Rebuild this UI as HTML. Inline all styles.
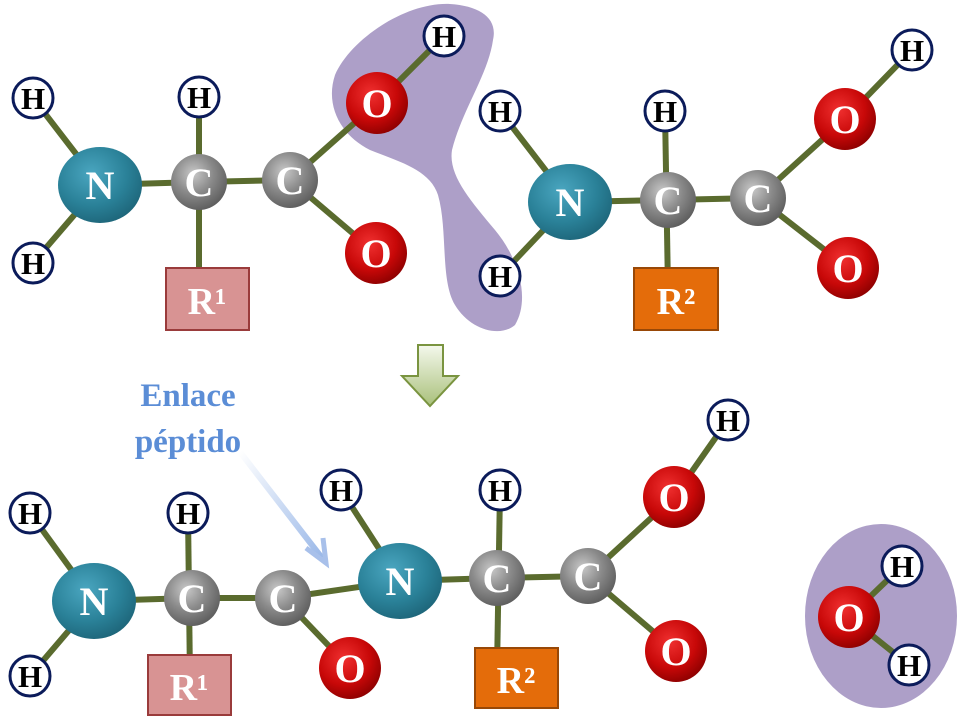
<!DOCTYPE html>
<html><head><meta charset="utf-8"><style>
html,body{margin:0;padding:0;background:#fff;width:960px;height:720px;overflow:hidden}
svg text{font-family:"Liberation Serif",serif;font-weight:bold;text-anchor:middle}
</style></head><body>
<svg width="960" height="720" viewBox="0 0 960 720" xmlns="http://www.w3.org/2000/svg">
<defs>
<radialGradient id="gN" cx="40%" cy="35%" r="70%"><stop offset="0" stop-color="#4aa6c0"/><stop offset="0.6" stop-color="#2a8198"/><stop offset="1" stop-color="#1d6478"/></radialGradient>
<radialGradient id="gC" cx="40%" cy="35%" r="70%"><stop offset="0" stop-color="#c8c8c8"/><stop offset="0.5" stop-color="#8a8a8a"/><stop offset="1" stop-color="#5a5a5a"/></radialGradient>
<radialGradient id="gO" cx="40%" cy="35%" r="70%"><stop offset="0" stop-color="#f03030"/><stop offset="0.6" stop-color="#c80808"/><stop offset="1" stop-color="#8a0000"/></radialGradient>
<linearGradient id="gA" x1="0" y1="0" x2="0" y2="1"><stop offset="0" stop-color="#f4f8ec"/><stop offset="1" stop-color="#a9c07a"/></linearGradient>
<linearGradient id="gL" x1="0" y1="0" x2="1" y2="1"><stop offset="0" stop-color="#ffffff"/><stop offset="1" stop-color="#9ab8e8"/></linearGradient>
</defs>
<path d="M450,4 C480,6 498,18 493,40 C488,75 462,110 452,150 C448,175 470,200 495,230 C520,260 530,300 515,325 C500,338 470,330 455,305 C440,280 448,230 438,195 C430,170 400,162 370,150 C340,135 325,105 335,75 C350,40 405,2 450,4 Z" fill="#ad9fc8"/>
<ellipse cx="881" cy="616" rx="76" ry="92" fill="#ad9fc8"/>
<g stroke="#5a6b2e" stroke-width="6" fill="none">
<line x1="33" y1="98" x2="100" y2="185"/><line x1="33" y1="263" x2="100" y2="185"/>
<line x1="100" y1="185" x2="199" y2="182"/><line x1="199" y1="97" x2="199" y2="290"/>
<line x1="199" y1="182" x2="290" y2="180"/><line x1="290" y1="180" x2="377" y2="103"/>
<line x1="290" y1="180" x2="376" y2="253"/><line x1="377" y1="103" x2="444" y2="36"/>
<line x1="500" y1="111" x2="570" y2="202"/><line x1="500" y1="276" x2="570" y2="202"/>
<line x1="570" y1="202" x2="668" y2="200"/><line x1="665" y1="111" x2="668" y2="290"/>
<line x1="668" y1="200" x2="758" y2="198"/><line x1="758" y1="198" x2="845" y2="119"/>
<line x1="758" y1="198" x2="848" y2="268"/><line x1="845" y1="119" x2="912" y2="50"/>
<line x1="30" y1="513" x2="94" y2="601"/><line x1="30" y1="676" x2="94" y2="601"/>
<line x1="94" y1="601" x2="192" y2="598"/><line x1="188" y1="513" x2="190" y2="680"/>
<line x1="192" y1="598" x2="283" y2="598"/><line x1="283" y1="598" x2="350" y2="668"/>
<line x1="283" y1="598" x2="400" y2="581"/><line x1="341" y1="490" x2="400" y2="581"/>
<line x1="400" y1="581" x2="497" y2="578"/><line x1="500" y1="490" x2="497" y2="670"/>
<line x1="497" y1="578" x2="588" y2="576"/><line x1="588" y1="576" x2="674" y2="497"/>
<line x1="588" y1="576" x2="676" y2="651"/><line x1="674" y1="497" x2="728" y2="420"/>
<line x1="849" y1="617" x2="902" y2="566"/><line x1="849" y1="617" x2="909" y2="665"/>
</g>
<rect x="166" y="268" width="83" height="62" fill="#d89393" stroke="#9a3b3b" stroke-width="2"/>
<text x="207" y="314" font-size="38" fill="#fff">R¹</text>
<rect x="634" y="268" width="84" height="62" fill="#e46c0a" stroke="#984807" stroke-width="2"/>
<text x="676" y="314" font-size="38" fill="#fff">R²</text>
<rect x="148" y="655" width="83" height="60" fill="#d89393" stroke="#9a3b3b" stroke-width="2"/>
<text x="189" y="700" font-size="38" fill="#fff">R¹</text>
<rect x="475" y="648" width="83" height="60" fill="#e46c0a" stroke="#984807" stroke-width="2"/>
<text x="516" y="693" font-size="38" fill="#fff">R²</text>
<g font-size="40" fill="#fff">
<ellipse cx="100" cy="185" rx="42" ry="38" fill="url(#gN)"/><text x="100" y="199">N</text>
<ellipse cx="570" cy="202" rx="42" ry="38" fill="url(#gN)"/><text x="570" y="216">N</text>
<ellipse cx="94" cy="601" rx="42" ry="38" fill="url(#gN)"/><text x="94" y="615">N</text>
<ellipse cx="400" cy="581" rx="42" ry="38" fill="url(#gN)"/><text x="400" y="595">N</text>
<circle cx="199" cy="182" r="28" fill="url(#gC)"/><text x="199" y="196">C</text>
<circle cx="290" cy="180" r="28" fill="url(#gC)"/><text x="290" y="194">C</text>
<circle cx="668" cy="200" r="28" fill="url(#gC)"/><text x="668" y="214">C</text>
<circle cx="758" cy="198" r="28" fill="url(#gC)"/><text x="758" y="212">C</text>
<circle cx="192" cy="598" r="28" fill="url(#gC)"/><text x="192" y="612">C</text>
<circle cx="283" cy="598" r="28" fill="url(#gC)"/><text x="283" y="612">C</text>
<circle cx="497" cy="578" r="28" fill="url(#gC)"/><text x="497" y="592">C</text>
<circle cx="588" cy="576" r="28" fill="url(#gC)"/><text x="588" y="590">C</text>
<circle cx="377" cy="103" r="31" fill="url(#gO)"/><text x="377" y="117">O</text>
<circle cx="376" cy="253" r="31" fill="url(#gO)"/><text x="376" y="267">O</text>
<circle cx="845" cy="119" r="31" fill="url(#gO)"/><text x="845" y="133">O</text>
<circle cx="848" cy="268" r="31" fill="url(#gO)"/><text x="848" y="282">O</text>
<circle cx="350" cy="668" r="31" fill="url(#gO)"/><text x="350" y="682">O</text>
<circle cx="674" cy="497" r="31" fill="url(#gO)"/><text x="674" y="511">O</text>
<circle cx="676" cy="651" r="31" fill="url(#gO)"/><text x="676" y="665">O</text>
<circle cx="849" cy="617" r="31" fill="url(#gO)"/><text x="849" y="631">O</text>
</g>
<g font-size="31" fill="#000">
<g fill="#fff" stroke="#0b1b5a" stroke-width="3">
<circle cx="33" cy="98" r="20"/><circle cx="199" cy="97" r="20"/><circle cx="444" cy="36" r="20"/><circle cx="33" cy="263" r="20"/>
<circle cx="500" cy="111" r="20"/><circle cx="665" cy="111" r="20"/><circle cx="912" cy="50" r="20"/><circle cx="500" cy="276" r="20"/>
<circle cx="30" cy="513" r="20"/><circle cx="188" cy="513" r="20"/><circle cx="30" cy="676" r="20"/><circle cx="341" cy="490" r="20"/>
<circle cx="500" cy="490" r="20"/><circle cx="728" cy="420" r="20"/><circle cx="902" cy="566" r="20"/><circle cx="909" cy="665" r="20"/>
</g>
<text x="33" y="109">H</text><text x="199" y="108">H</text><text x="444" y="47">H</text><text x="33" y="274">H</text>
<text x="500" y="122">H</text><text x="665" y="122">H</text><text x="912" y="61">H</text><text x="500" y="287">H</text>
<text x="30" y="524">H</text><text x="188" y="524">H</text><text x="30" y="687">H</text><text x="341" y="501">H</text>
<text x="500" y="501">H</text><text x="728" y="431">H</text><text x="902" y="577">H</text><text x="909" y="676">H</text>
</g>
<path d="M418,345 L443,345 L443,376 L458,376 L430,406 L402,376 L418,376 Z" fill="url(#gA)" stroke="#7a9440" stroke-width="2"/>
<text x="188" y="406" font-size="33" fill="#5b8dd6">Enlace</text>
<text x="188" y="452" font-size="33" fill="#5b8dd6">péptido</text>
<line x1="240" y1="452" x2="322" y2="558" stroke="url(#gL)" stroke-width="6"/>
<path d="M306,548 L326,563 L323,538" fill="none" stroke="#a8c0ea" stroke-width="5"/>
</svg>
</body></html>
